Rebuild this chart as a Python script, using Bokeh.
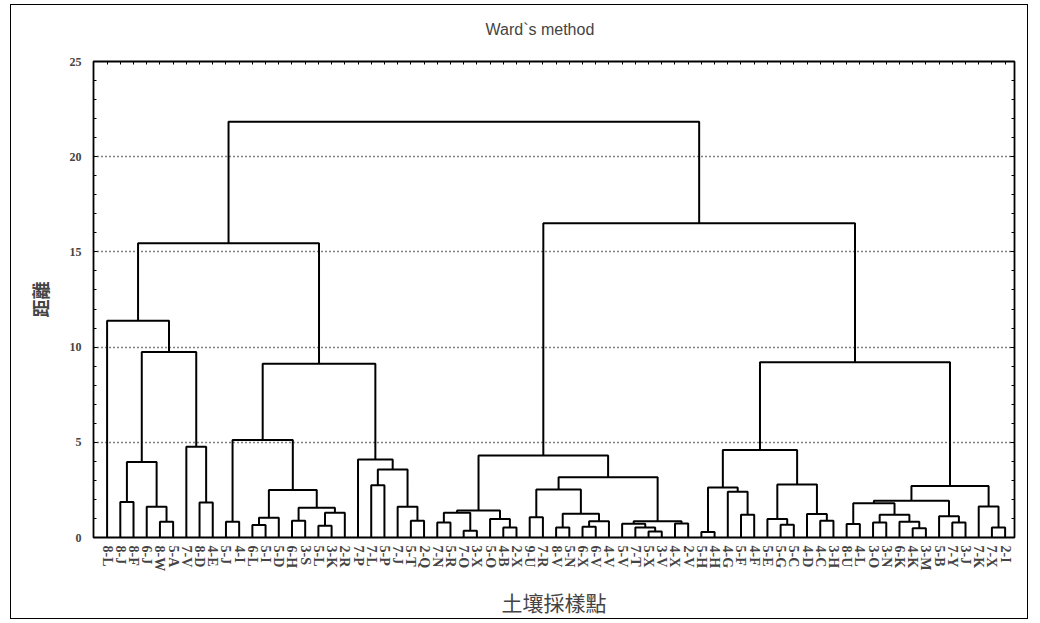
from bokeh.plotting import figure
from bokeh.models import Range1d, FixedTicker, LinearAxis, CustomLabelingPolicy
from bokeh.embed import file_html
from bokeh.resources import INLINE

leaves = ["8-L", "8-J", "8-F", "6-J", "8-W", "5-A", "7-V", "8-D", "4-E", "5-J",
          "4-I", "6-L", "5-I", "5-D", "6-H", "3-S", "5-L", "3-K", "2-R", "7-P",
          "7-L", "5-P", "7-J", "5-T", "2-Q", "7-N", "5-R", "7-O", "3-X", "5-O",
          "4-B", "2-X", "9-U", "7-R", "8-V", "5-N", "6-X", "6-V", "4-V", "5-V",
          "7-T", "5-X", "3-V", "4-X", "2-V", "5-H", "4-H", "4-G", "5-F", "4-F",
          "5-E", "5-G", "5-C", "4-D", "4-C", "3-H", "8-U", "4-L", "3-O", "3-N",
          "6-K", "4-K", "3-M", "5-B", "7-Y", "3-J", "7-K", "7-X", "2-I"]

# linkage: cluster ids < 69 are leaves, id 69+k is the k-th merge
merge_a = [1, 4, 3, 69, 7, 6, 72, 0, 9, 11, 78, 14, 16, 81, 80, 79, 77, 20, 23, 22,
           86, 19, 85, 76, 25, 27, 93, 30, 29, 95, 32, 34, 36, 101, 100, 99, 41, 40, 39, 43,
           107, 104, 98, 45, 48, 47, 112, 51, 50, 54, 53, 117, 115, 56, 58, 61, 60, 123, 122, 64,
           63, 127, 67, 66, 130, 121, 111, 92]
merge_b = [2, 5, 70, 71, 8, 73, 74, 75, 10, 12, 13, 15, 17, 18, 82, 83, 84, 21, 24, 87,
           88, 89, 90, 91, 26, 28, 94, 31, 96, 97, 33, 35, 37, 38, 102, 103, 42, 105, 106, 44,
           108, 109, 110, 46, 49, 113, 114, 52, 116, 55, 118, 119, 120, 57, 59, 62, 124, 125, 126, 65,
           128, 129, 68, 131, 132, 133, 134, 135]
merge_h = [1.87, 0.83, 1.61, 3.96, 1.84, 4.77, 9.74, 11.39, 0.83, 0.65, 1.04, 0.88, 0.62, 1.30, 1.56, 2.50, 5.12, 2.75, 0.88, 1.61,
           3.57, 4.10, 9.13, 15.45, 0.79, 0.36, 1.30, 0.53, 0.97, 1.42, 1.06, 0.53, 0.57, 0.86, 1.25, 2.52, 0.31, 0.52, 0.72, 0.73,
           0.85, 3.16, 4.31, 0.29, 1.19, 2.40, 2.62, 0.67, 0.97, 0.88, 1.23, 2.78, 4.59, 0.71, 0.79, 0.48, 0.83, 1.19, 1.80, 0.79,
           1.11, 1.93, 0.53, 1.63, 2.71, 9.20, 16.50, 21.84]

y_ticks = [0, 5, 10, 15, 20, 25]
y_minor = list(range(0, 26))
grid_levels = [5, 10, 15, 20]

n = len(leaves)
pos = {i: float(i) for i in range(n)}
hgt = {i: 0.0 for i in range(n)}
xs, ys = [], []
for k, (a, b, h) in enumerate(zip(merge_a, merge_b, merge_h)):
    xa, xb = pos[a], pos[b]
    xs.append([xa, xa, xb, xb])
    ys.append([hgt[a], h, h, hgt[b]])
    pos[n + k] = (xa + xb) / 2.0
    hgt[n + k] = h

p = figure(width=1018, height=615, x_range=Range1d(-1.03, 68.71), y_range=Range1d(0, 25),
           output_backend="svg", toolbar_location=None,
           min_border_left=82, min_border_right=7, min_border_top=56, min_border_bottom=83)
p.styles = {"border": "1px solid black", "margin-left": "10px", "margin-top": "4px"}
p.background_fill_color = "white"
p.border_fill_color = "white"
p.outline_line_color = "black"
p.outline_line_width = 1.8

p.multi_line(xs, ys, line_color="black", line_width=2)

# title
p.title.text = "Ward`s method"
p.title.text_font = "Liberation Sans"
p.title.text_font_size = "16px"
p.title.text_font_style = "normal"
p.title.align = "left"
p.title.offset = 392
p.title.standoff = 26

# x axis (bottom)
xa_ = p.xaxis[0]
xa_.ticker = FixedTicker(ticks=list(range(n)))
xa_.major_label_overrides = {i: lab for i, lab in enumerate(leaves)}
xa_.major_label_orientation = "vertical"
xa_.major_label_text_font = "Liberation Serif"
xa_.major_label_text_font_style = "bold"
xa_.major_label_text_font_size = "14px"
xa_.major_label_standoff = 8
xa_.major_tick_in = 3
xa_.major_tick_out = 0
xa_.minor_tick_line_color = None
xa_.axis_line_color = None
xa_.major_tick_line_color = "black"
xa_.axis_label = "土壤採樣點"
xa_.axis_label_text_font = "Noto Sans CJK TC"
xa_.axis_label_text_font_size = "21px"
xa_.axis_label_text_font_style = "normal"
xa_.axis_label_standoff = 13

# y axis (left)
ya_ = p.yaxis[0]
ya_.ticker = FixedTicker(ticks=y_ticks, minor_ticks=y_minor)
ya_.major_label_text_font = "Liberation Serif"
ya_.major_label_text_font_style = "bold"
ya_.major_label_text_font_size = "12px"
ya_.major_label_standoff = 12
ya_.major_tick_in = 4
ya_.major_tick_out = 0
ya_.minor_tick_in = 3
ya_.minor_tick_out = 0
ya_.axis_line_color = None
ya_.axis_label = "距離"
ya_.axis_label_text_font = "Noto Sans CJK TC"
ya_.axis_label_text_font_size = "18px"
ya_.axis_label_text_font_style = "bold"
ya_.axis_label_standoff = 14

no_labels = CustomLabelingPolicy(code="return new Set()")

# top axis: tick marks at leaves
top = LinearAxis(ticker=FixedTicker(ticks=list(range(n))), axis_line_color=None,
                 major_tick_in=3, major_tick_out=0, minor_tick_line_color=None,
                 major_label_policy=no_labels, major_label_standoff=0)
p.add_layout(top, "above")
# right axis: tick marks
right = LinearAxis(ticker=FixedTicker(ticks=y_ticks, minor_ticks=y_minor),
                   axis_line_color=None, major_tick_in=4, major_tick_out=0,
                   minor_tick_in=3, minor_tick_out=0,
                   major_label_policy=no_labels, major_label_standoff=0)
p.add_layout(right, "right")

p.xgrid.visible = False
p.ygrid.ticker = FixedTicker(ticks=grid_levels)
p.ygrid.grid_line_color = "black"
p.ygrid.grid_line_dash = "1 3"
p.ygrid.grid_line_width = 1.4

open("out.html", "w").write(file_html(p, INLINE))
